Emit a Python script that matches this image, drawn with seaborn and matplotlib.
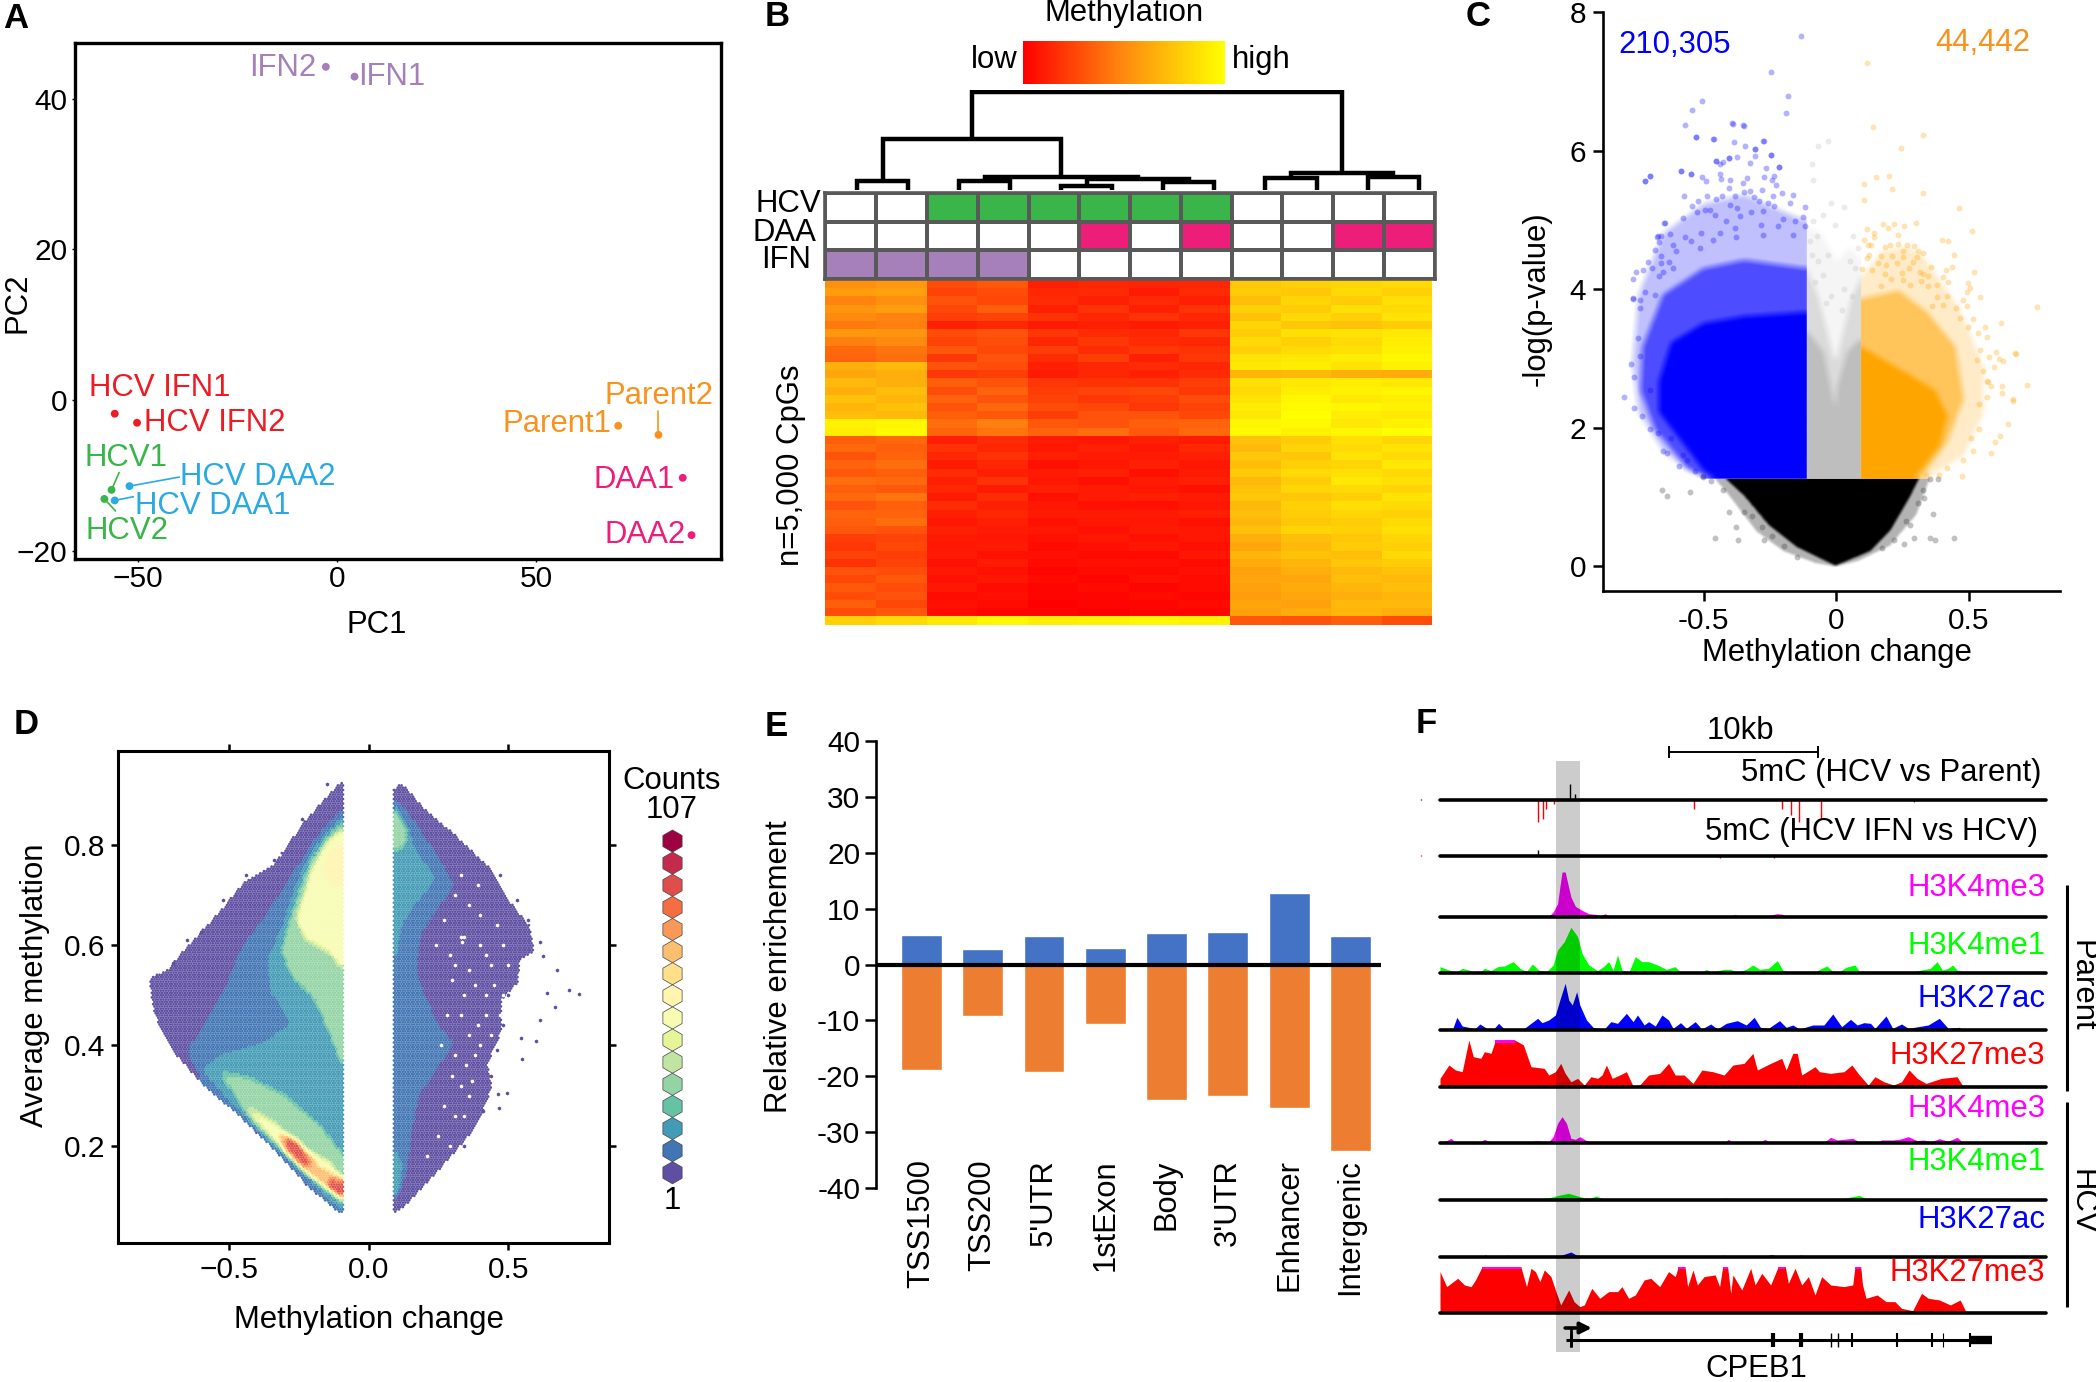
import numpy as np
import pandas as pd
import matplotlib
matplotlib.use("Agg")
import matplotlib.pyplot as plt
import seaborn as sns
from matplotlib.colors import LinearSegmentedColormap, ListedColormap, to_rgb
from matplotlib.path import Path
from matplotlib.colorbar import ColorbarBase

W, H = 2096, 1382

# panel A
PCA_NAMES = ["IFN2", "IFN1", "HCV IFN1", "HCV IFN2", "HCV1", "HCV2", "HCV DAA2", "HCV DAA1",
             "Parent1", "Parent2", "DAA1", "DAA2"]
PCA_GROUPS = ["IFN", "IFN", "HCV IFN", "HCV IFN", "HCV", "HCV", "HCV DAA", "HCV DAA",
              "Parent", "Parent", "DAA", "DAA"]
PC1 = [-2.8, 4.4, -55.8, -50.2, -56.6, -58.4, -52.1, -55.8, 70.6, 80.7, 86.8, 89.0]
PC2 = [44.2, 42.9, -1.8, -3.0, -11.9, -13.1, -11.4, -13.3, -3.4, -4.6, -10.3, -17.9]
LABEL_X = [-13.5, 13.7, -44.5, -30.7, -53, -52.7, -20, -31.3, 55.2, 80.8, 74.5, 77.4]
LABEL_Y = [44.1, 42.9, 1.6, -3.0, -7.7, -17.3, -10.2, -14, -3.2, 0.5, -10.6, -17.9]
GROUP_COLORS = {"IFN": "#A680B8", "HCV IFN": "#ED1C24", "HCV": "#39B54A", "HCV DAA": "#29ABE2",
                "Parent": "#F7931E", "DAA": "#ED1E79"}
# label end of the leader line, by sample
LEADERS = {"HCV1": (-54.7, -9.6), "HCV2": (-55.6, -14.7), "HCV DAA2": (-39.6, -10.2),
           "HCV DAA1": (-51.1, -12.8), "Parent2": (80.7, -1.4)}

# panel B
HCV_ROW = [0, 0, 1, 1, 1, 1, 1, 1, 0, 0, 0, 0]
DAA_ROW = [0, 0, 0, 0, 0, 2, 0, 2, 0, 0, 2, 2]
IFN_ROW = [3, 3, 3, 3, 0, 0, 0, 0, 0, 0, 0, 0]
MERGES = [(0, 1, 23), (2, 3, 23), (4, 5, 11), (6, 7, 19), (14, 15, 26), (13, 16, 33), (12, 17, 126),
          (8, 9, 29), (10, 11, 31), (19, 20, 41), (18, 21, 241)]
METHYLATION = [
    [52, 56, 28, 32, 12, 14, 13, 14, 76, 80, 82, 84],
    [58, 60, 24, 28, 14, 15, 10, 16, 78, 76, 84, 80],
    [48, 52, 30, 26, 16, 12, 15, 12, 72, 82, 78, 86],
    [55, 58, 26, 34, 12, 18, 12, 18, 80, 78, 86, 84],
    [50, 48, 22, 24, 18, 14, 18, 14, 74, 84, 80, 88],
    [44, 46, 12, 14, 10, 12, 10, 12, 82, 76, 74, 78],
    [56, 54, 28, 30, 20, 16, 14, 20, 78, 86, 88, 90],
    [46, 50, 24, 28, 14, 20, 16, 14, 84, 80, 84, 92],
    [38, 42, 32, 26, 22, 16, 20, 18, 80, 84, 86, 94],
    [36, 40, 20, 30, 16, 22, 12, 20, 88, 90, 92, 96],
    [66, 70, 30, 28, 12, 14, 16, 14, 90, 92, 88, 94],
    [62, 66, 20, 22, 10, 14, 12, 16, 68, 70, 66, 64],
    [70, 66, 34, 30, 20, 18, 18, 22, 86, 90, 92, 90],
    [66, 72, 28, 36, 22, 24, 26, 20, 84, 92, 94, 96],
    [74, 68, 36, 30, 24, 20, 22, 28, 88, 96, 90, 92],
    [68, 74, 30, 38, 28, 26, 20, 24, 92, 98, 96, 94],
    [72, 70, 34, 32, 22, 30, 30, 26, 90, 100, 92, 90],
    [94, 96, 40, 46, 32, 30, 34, 36, 96, 98, 90, 94],
    [92, 98, 36, 42, 36, 40, 32, 38, 98, 94, 96, 100],
    [34, 38, 12, 16, 10, 8, 12, 10, 74, 78, 86, 82],
    [38, 34, 18, 14, 8, 12, 8, 14, 70, 82, 84, 88],
    [30, 36, 14, 18, 12, 10, 10, 12, 76, 76, 88, 84],
    [36, 40, 10, 14, 6, 8, 12, 8, 72, 80, 82, 90],
    [32, 34, 16, 12, 10, 12, 6, 10, 78, 84, 86, 84],
    [40, 38, 12, 18, 8, 6, 10, 12, 70, 78, 90, 86],
    [34, 32, 14, 10, 12, 10, 8, 6, 74, 82, 84, 82],
    [38, 42, 10, 16, 6, 10, 12, 10, 76, 76, 80, 88],
    [30, 34, 16, 12, 8, 6, 6, 8, 70, 80, 86, 84],
    [36, 36, 12, 14, 10, 10, 10, 12, 72, 78, 82, 80],
    [34, 40, 8, 12, 6, 8, 8, 6, 68, 76, 78, 84],
    [32, 30, 12, 10, 8, 6, 10, 8, 74, 82, 80, 86],
    [22, 24, 10, 8, 6, 8, 6, 8, 66, 72, 76, 82],
    [20, 26, 8, 10, 4, 6, 8, 6, 62, 70, 78, 80],
    [24, 22, 10, 6, 6, 4, 4, 8, 68, 74, 72, 84],
    [18, 24, 6, 10, 4, 6, 6, 4, 64, 68, 76, 78],
    [30, 28, 8, 6, 2, 4, 4, 6, 60, 66, 70, 74],
    [26, 32, 6, 8, 4, 2, 6, 4, 62, 62, 72, 70],
    [32, 28, 8, 4, 2, 4, 2, 4, 60, 64, 68, 72],
    [28, 30, 4, 6, 2, 2, 4, 2, 58, 62, 66, 68],
    [34, 26, 6, 4, 0, 2, 2, 4, 62, 60, 70, 70],
    [28, 32, 4, 2, 2, 0, 2, 2, 60, 64, 68, 66],
    [80, 84, 90, 96, 92, 94, 96, 94, 32, 30, 34, 28],
]

# panel C: outlines of the point clouds and the points that stand apart
BLUE_SPARSE = [(-.112, 4.98), (-.196, 5.11), (-.349, 5.36), (-.502, 5.23), (-.655, 4.8), (-.747, 3.92), (-.77, 2.92),
               (-.747, 2.23), (-.655, 1.67), (-.564, 1.38), (-.472, 1.27), (-.112, 1.27)]
BLUE_MID = [(-.112, 4.3), (-.349, 4.42), (-.502, 4.3), (-.655, 3.92), (-.732, 3.17), (-.74, 2.54), (-.686, 1.98),
            (-.564, 1.42), (-.487, 1.27), (-.112, 1.27)]
BLUE_SOLID = [(-.112, 3.67), (-.349, 3.61), (-.502, 3.51), (-.625, 3.23), (-.671, 2.67), (-.671, 2.23), (-.609, 1.92),
              (-.502, 1.38), (-.456, 1.27), (-.112, 1.27)]
ORANGE_SPARSE = [(.092, 4.17), (.172, 4.55), (.263, 4.61), (.325, 4.48), (.462, 3.73), (.554, 2.86), (.554, 2.23),
                 (.478, 1.6), (.34, 1.27), (.092, 1.27)]
ORANGE_MID = [(.092, 3.86), (.233, 3.98), (.34, 3.67), (.447, 3.17), (.478, 2.42), (.417, 1.79), (.317, 1.27), (.092, 1.27)]
ORANGE_SOLID = [(.092, 3.17), (.263, 2.79), (.371, 2.54), (.417, 2.17), (.386, 1.73), (.294, 1.27), (.092, 1.27)]
GREY_SPARSE = [(-.112, 4.9), (-.06, 4.8), (0, 4.4), (.05, 4.6), (.092, 4.4), (.092, 1.27), (-.112, 1.27)]
GREY_MID = [(-.112, 4.3), (-.07, 3.9), (-.01, 3.0), (0, 3.0), (.05, 3.8), (.092, 4.2), (.092, 1.27), (-.112, 1.27)]
GREY_SOLID = [(-.112, 3.4), (-.05, 3.1), (-.012, 2.4), (-.004, 2.3), (.002, 2.6), (.04, 3.1), (.092, 3.3),
              (.092, 1.27), (-.112, 1.27)]
BLACK_SPARSE = [(-.46, 1.27), (-.4, 1.0), (-.3, .5), (-.2, .22), (-.08, .05), (-.005, 0), (.08, .08), (.2, .3),
                (.3, .75), (.35, 1.27)]
BLACK_SOLID = [(-.42, 1.27), (-.349, 1.02), (-.257, .6), (-.15, .28), (-.005, .01), (.126, .22), (.202, .52),
               (.275, 1.0), (.31, 1.27)]
BLUE_POINTS = [(-.135, 7.65), (-.247, 7.13), (-.181, 6.79), (-.188, 6.54), (-.508, 6.71), (-.545, 6.59), (-.39, 6.39),
               (-.349, 6.36), (-.531, 6.19), (-.462, 6.16), (-.274, 6.14), (-.306, 6.02), (-.704, 5.63), (-.721, 5.56),
               (-.587, 5.7), (-.548, 5.66), (-.453, 5.85), (-.403, 5.89), (-.245, 5.94), (-.216, 5.77), (-.648, 4.95),
               (-.671, 4.77), (-.802, 2.45), (-.773, 2.92), (-.766, 3.86),
               (-.572, 6.363), (-.392, 6.397), (-.351, 6.363), (-.530, 6.190), (-.464, 6.166), (-.385, 6.118), (-.343, 6.065),
               (-.275, 6.132), (-.307, 6.017), (-.307, 5.916), (-.246, 5.930), (-.376, 5.906), (-.405, 5.892), (-.455, 5.848),
               (-.426, 5.834), (-.439, 5.800), (-.327, 5.824), (-.217, 5.766), (-.264, 5.742), (-.587, 5.699), (-.549, 5.665),
               (-.440, 5.665), (-.507, 5.617), (-.434, 5.593), (-.493, 5.559), (-.400, 5.569), (-.338, 5.598), (-.271, 5.617),
               (-.236, 5.636), (-.244, 5.579), (-.351, 5.531), (-.723, 5.559), (-.702, 5.627), (-.226, 5.497), (-.405, 5.458),
               (-.280, 5.434), (-.324, 5.420), (-.348, 5.401), (-.574, 5.343), (-.486, 5.348), (-.454, 5.304), (-.432, 5.343),
               (-.383, 5.338), (-.309, 5.333), (-.237, 5.348), (-.205, 5.391), (-.164, 5.352), (-.173, 5.247), (-.119, 5.184),
               (-.520, 5.266), (-.543, 5.194), (-.497, 5.136), (-.478, 5.145), (-.402, 5.218), (-.374, 5.170), (-.290, 5.275),
               (-.257, 5.242), (-.236, 5.194), (-.649, 4.953), (-.578, 5.025), (-.525, 5.112), (-.459, 5.073), (-.415, 4.977),
               (-.364, 5.059), (-.320, 5.112), (-.276, 5.121), (-.201, 5.011), (-.125, 5.040), (-.676, 4.760), (-.660, 4.770),
               (-.626, 4.794), (-.572, 4.760), (-.509, 4.809), (-.440, 4.809), (-.383, 4.881), (-.283, 4.929), (-.220, 4.905),
               (-.157, 4.977), (-.119, 4.905), (-.669, 4.674), (-.616, 4.640), (-.547, 4.698), (-.465, 4.712), (-.377, 4.760),
               (-.276, 4.785), (-.163, 4.785), (-.710, 4.399), (-.685, 4.568), (-.660, 4.481), (-.603, 4.544), (-.515, 4.592),
               (-.767, 4.144), (-.754, 4.245), (-.729, 4.270), (-.694, 4.303), (-.660, 4.375), (-.631, 4.385), (-.767, 3.870),
               (-.739, 3.846), (-.723, 3.966), (-.685, 3.918), (-.742, 3.726), (-.669, 4.183), (-.654, 4.255), (-.616, 4.303),
               (-.763, 2.29), (-.732, 2.17), (-.701, 1.98), (-.655, 1.67), (-.64, 1.63), (-.594, 1.45), (-.579, 1.6), (-.533, 1.38),
               (-.763, 2.73), (-.747, 3.29), (-.74, 3.04), (-.701, 2.54), (-.671, 1.92), (-.625, 1.85), (-.564, 1.54), (-.502, 1.3)]
ORANGE_POINTS = [(.115, 7.26), (.138, 6.34), (.325, 6.22), (.245, 6.04), (.149, 5.62), (.103, 5.52), (.199, 5.64),
                 (.21, 5.45), (.325, 5.39), (.103, 5.28), (.462, 5.17), (.511, 4.84), (.677, 3.07), (.665, 2.39), (.646, 2.05),
                 (.616, 1.88), (.585, 1.63), (.597, 1.79), (.473, 1.31),
                 (.177, 4.943), (.216, 4.943), (.301, 4.953), (.257, 4.905), (.194, 4.886), (.116, 4.871), (.143, 4.809), (.231, 4.785),
                 (.143, 4.746), (.397, 4.712), (.422, 4.698), (.106, 4.712), (.120, 4.640), (.130, 4.631), (.232, 4.645), (.202, 4.635),
                 (.265, 4.631), (.183, 4.602), (.292, 4.616), (.443, 4.496), (.252, 4.544), (.309, 4.554), (.328, 4.520), (.170, 4.481),
                 (.124, 4.496), (.211, 4.472), (.114, 4.448), (.303, 4.462), (.252, 4.462), (.158, 4.376), (.227, 4.376), (.290, 4.390),
                 (.357, 4.327), (.189, 4.351), (.095, 4.289), (.133, 4.270), (.275, 4.299), (.412, 4.279), (.438, 4.327), (.521, 4.255),
                 (.248, 4.231), (.315, 4.255), (.328, 4.222), (.183, 4.222), (.347, 4.193), (.401, 4.173), (.420, 4.106), (.207, 4.145),
                 (.252, 4.135), (.497, 4.096), (.380, 4.063), (.504, 4.024), (.321, 4.111), (.491, 3.966), (.168, 4.048), (.277, 4.063),
                 (.347, 4.039), (.542, 3.885), (.378, 3.894), (.416, 3.904), (.479, 3.846), (.359, 3.760), (.491, 3.760), (.755, 3.740),
                 (.403, 3.774), (.451, 3.726), (.516, 3.567), (.466, 3.581), (.620, 3.519), (.498, 3.461), (.560, 3.461), (.535, 3.374),
                 (.569, 3.307), (.674, 3.086), (.604, 3.100), (.577, 3.018), (.627, 2.965), (.615, 2.989), (.596, 2.884), (.542, 3.115),
                 (.529, 2.980), (.552, 2.826), (.718, 2.619), (.626, 2.604), (.571, 2.667), (.623, 2.498), (.567, 2.450), (.667, 2.412),
                 (.508, 1.85), (.539, 1.98), (.478, 1.54), (.417, 1.42), (.386, 1.32), (.34, 1.32), (.57, 2.67), (.539, 2.35), (.585, 2.6),
                 (.516, 1.67)]
GREY_POINTS = [(-.031, 6.14), (-.069, 6.07), (-.092, 5.8), (-.089, 5.58), (-.02, 5.25), (.029, 5.18), (-.051, 5.07),
               (-.089, 4.98), (-.005, 4.92), (.064, 4.77), (-.074, 4.77), (-.09, 4.5), (-.07, 4.4), (-.05, 4.2), (-.02, 3.9),
               (.03, 4.0), (.07, 4.3), (.08, 4.6), (-.1, 4.7), (-.03, 4.5), (.05, 4.4), (-.08, 4.1), (.06, 3.9), (-.04, 3.8), (.02, 3.7)]
BLACK_POINTS = [(-.658, 1.1), (-.637, 1.02), (-.551, 1.07), (-.456, .41), (-.372, .38), (-.403, .79), (-.38, .57),
                (-.273, .38), (.444, .41), (.371, .38), (.352, .41), (.363, .76), (.383, 1.26), (.294, .41),
                (.256, .32), (.332, .98), (-.15, .13), (-.472, 1.23), (-.426, 1.1), (-.502, 1.29), (-.349, .79), (-.319, .73),
                (-.28, .57), (-.242, .44), (-.196, .29), (.279, .6), (.263, .66), (.325, 1.1), (.309, .91), (.217, .38),
                (.172, .26), (.355, 1.26)]

# panel D: density outlines, with the colour step of each
D_REGIONS = [
    (0, [(-.095, .924), (-.137, .9), (-.238, .836), (-.34, .756), (-.441, .724), (-.525, .668), (-.644, .596), (-.72, .548),
         (-.782, .532), (-.762, .46), (-.694, .388), (-.593, .324), (-.475, .268), (-.34, .196), (-.221, .124), (-.103, .068),
         (-.095, .068)]),
    (1, [(-.095, .868), (-.171, .824), (-.238, .768), (-.306, .708), (-.373, .652), (-.458, .588), (-.508, .516), (-.576, .452),
         (-.644, .388), (-.593, .328), (-.475, .272), (-.34, .2), (-.221, .128), (-.103, .072)]),
    (2, [(-.095, .852), (-.154, .82), (-.221, .768), (-.264, .708), (-.306, .636), (-.356, .572), (-.348, .508), (-.272, .444),
         (-.373, .404), (-.525, .38), (-.593, .352), (-.492, .288), (-.373, .224), (-.255, .16), (-.154, .1), (-.095, .072)]),
    (4, [(-.095, .84), (-.154, .808), (-.204, .764), (-.238, .716), (-.28, .644), (-.306, .588), (-.272, .54), (-.188, .492),
         (-.137, .428), (-.095, .364)]),
    (4, [(-.525, .344), (-.424, .332), (-.306, .3), (-.171, .236), (-.095, .18), (-.095, .088), (-.154, .116), (-.272, .172),
         (-.407, .244)]),
    (7, [(-.095, .828), (-.145, .804), (-.196, .756), (-.221, .708), (-.255, .652), (-.221, .612), (-.137, .588), (-.095, .556)]),
    (7, [(-.441, .276), (-.34, .244), (-.238, .196), (-.137, .164), (-.095, .132), (-.095, .092), (-.171, .132), (-.306, .196)]),
    (8, [(-.095, .8), (-.137, .784), (-.162, .748), (-.128, .724), (-.095, .716)]),
    (10, [(-.323, .228), (-.255, .208), (-.171, .156), (-.095, .136), (-.095, .096), (-.154, .12), (-.238, .156), (-.306, .196)]),
    (13, [(-.297, .22), (-.264, .208), (-.201, .16), (-.238, .164), (-.289, .196)]),
    (13, [(-.145, .132), (-.095, .128), (-.095, .1), (-.137, .116)]),
    (0, [(.093, .908), (.117, .92), (.201, .868), (.319, .812), (.437, .748), (.471, .716), (.514, .676), (.573, .636), (.59, .588),
         (.539, .572), (.53, .524), (.471, .492), (.471, .428), (.421, .364), (.437, .316), (.387, .244), (.311, .192), (.201, .124),
         (.117, .076), (.093, .068)]),
    (1, [(.093, .888), (.133, .868), (.201, .812), (.269, .756), (.302, .716), (.235, .668), (.184, .62), (.167, .548), (.201, .492),
         (.252, .436), (.302, .404), (.252, .364), (.176, .3), (.15, .228), (.133, .148), (.093, .088)]),
    (2, [(.093, .876), (.133, .84), (.167, .788), (.235, .732), (.167, .684), (.117, .644), (.1, .588), (.093, .556)]),
    (2, [(.093, .196), (.117, .164), (.108, .116), (.093, .1)]),
    (4, [(.093, .868), (.13, .828), (.133, .804), (.093, .788)]),
]
D_POINTS = [(.674, .55), (.716, .51), (.755, .502), (.64, .504), (.666, .476), (.615, .45), (.547, .414), (.598, .408),
            (.551, .372), (.497, .306), (.463, .304), (.466, .276), (.615, .606), (.623, .578), (-.7, .565), (-.65, .61),
            (-.6, .625), (-.52, .69), (-.44, .74), (-.34, .77), (-.24, .85), (-.15, .92), (.47, .74), (.53, .69), (.57, .65),
            (.5, .5), (.48, .44), (.46, .39), (.44, .34), (.41, .27), (.34, .2)]
D_GAPS = [(.33, .615), (.34, .615), (.335, .605), (.29, .58), (.31, .56), (.36, .55), (.40, .60), (.42, .58), (.44, .56), (.38, .52),
          (.34, .50), (.30, .53), (.42, .50), (.45, .52), (.48, .60), (.46, .64), (.40, .66), (.36, .68), (.33, .74), (.39, .72),
          (.50, .56), (.28, .46), (.33, .46), (.36, .42), (.39, .44), (.42, .46), (.31, .38), (.35, .36), (.38, .38), (.33, .32),
          (.36, .30), (.30, .34), (.27, .28), (.31, .26), (.25, .22), (.21, .18), (.24, .60), (.27, .65), (.31, .70), (.26, .40),
          (.40, .40), (.44, .42), (.43, .36), (.37, .33), (.34, .26), (.29, .20), (.47, .46), (.48, .50)]

# panel E
REGIONS = ["TSS1500", "TSS200", "5'UTR", "1stExon", "Body", "3'UTR", "Enhancer", "Intergenic"]
HYPER = [5.2, 2.7, 5.1, 3.0, 5.7, 5.8, 12.7, 5.1]
HYPO = [-18.8, -9.2, -19.2, -10.6, -24.2, -23.5, -25.6, -33.4]

# panel F: browser tracks as (position, signal)
K4ME3_PARENT = [(90, 0), (175, 0), (185, 4), (195, 0), (270, 0), (280, 3), (300, 3), (310, 0), (335, 2), (345, 15), (355, 40), (360, 90),
                (365, 135), (372, 135), (378, 100), (385, 60), (395, 32), (410, 20), (425, 10), (440, 8), (450, 2), (462, 10), (470, 3),
                (500, 0), (510, 3), (520, 0), (540, 4), (555, 4), (570, 0), (660, 0), (690, 5), (700, 0), (745, 2), (755, 8), (765, 2),
                (820, 2), (850, 10), (862, 8), (870, 0), (1455, 0)]
K4ME1_PARENT = [(90, 20), (110, 10), (125, 2), (140, 15), (155, 10), (165, 0), (180, 2), (190, 15), (205, 8), (220, 20), (235, 22), (255, 35),
                (270, 15), (285, 5), (298, 28), (312, 10), (330, 5), (345, 25), (355, 70), (370, 95), (385, 138), (400, 110), (410, 60),
                (425, 25), (445, 8), (460, 22), (470, 35), (480, 10), (490, 55), (500, 10), (515, 2), (530, 50), (545, 35), (560, 35),
                (580, 25), (600, 12), (620, 20), (632, 3), (680, 2), (690, 12), (700, 3), (730, 12), (745, 12), (760, 2), (780, 12),
                (795, 25), (810, 12), (830, 15), (850, 38), (862, 10), (875, 3), (900, 5), (930, 0), (950, 15), (962, 22), (975, 5),
                (990, 5), (1005, 18), (1025, 25), (1035, 5), (1075, 2), (1140, 2), (1175, 10), (1195, 15), (1210, 35), (1222, 10),
                (1235, 15), (1245, 25), (1255, 10), (1275, 2), (1280, 0), (1455, 0)]
K27AC_PARENT = [(90, 0), (118, 2), (128, 38), (140, 12), (155, 8), (168, 3), (180, 18), (195, 5), (210, 2), (222, 20), (235, 3), (280, 5),
                (300, 25), (310, 35), (320, 22), (335, 30), (350, 45), (360, 90), (372, 140), (380, 90), (388, 75), (398, 115), (405, 75),
                (420, 30), (435, 8), (460, 3), (475, 25), (490, 20), (510, 50), (525, 25), (535, 45), (550, 15), (560, 25), (575, 12),
                (590, 45), (605, 30), (615, 5), (632, 22), (645, 5), (665, 25), (680, 3), (700, 18), (715, 3), (735, 20), (760, 28),
                (780, 15), (798, 38), (812, 8), (830, 5), (855, 28), (870, 8), (885, 15), (900, 3), (930, 15), (955, 15), (975, 48),
                (995, 10), (1015, 32), (1030, 15), (1045, 22), (1060, 20), (1070, 5), (1095, 42), (1110, 5), (1130, 18), (1145, 5),
                (1190, 15), (1215, 35), (1235, 5), (1260, 8), (1270, 0), (1455, 0)]
K27ME3_PARENT = [(90, 25), (110, 65), (125, 50), (140, 45), (155, 140), (165, 90), (182, 85), (190, 105), (205, 100), (215, 140), (258, 140),
                 (265, 135), (278, 125), (295, 60), (325, 55), (335, 35), (350, 45), (362, 70), (372, 40), (385, 15), (400, 25), (415, 5),
                 (430, 30), (445, 25), (455, 35), (465, 65), (478, 25), (495, 35), (510, 45), (525, 2), (540, 5), (560, 35), (585, 40),
                 (605, 70), (620, 35), (640, 35), (660, 10), (680, 50), (705, 45), (730, 35), (750, 65), (775, 70), (795, 100), (805, 50),
                 (835, 70), (860, 85), (870, 50), (885, 100), (895, 100), (905, 35), (935, 60), (945, 45), (970, 40), (1000, 45),
                 (1018, 65), (1035, 35), (1055, 5), (1070, 30), (1090, 15), (1112, 5), (1130, 15), (1147, 50), (1165, 25), (1185, 10),
                 (1220, 25), (1255, 30), (1268, 2), (1275, 0), (1455, 0)]
K4ME3_HCV = [(90, 3), (105, 8), (115, 15), (125, 2), (180, 3), (190, 12), (205, 3), (260, 4), (268, 2), (295, 2), (305, 8), (320, 5), (335, 5),
             (345, 20), (355, 60), (365, 80), (375, 60), (385, 15), (395, 12), (405, 20), (420, 8), (430, 2), (490, 2), (510, 4), (530, 2),
             (550, 4), (570, 2), (585, 4), (600, 0), (730, 2), (740, 12), (750, 2), (810, 2), (822, 12), (835, 2), (915, 2), (922, 5),
             (930, 1), (955, 2), (970, 18), (985, 10), (1000, 12), (1020, 15), (1035, 4), (1050, 6), (1070, 2), (1085, 10), (1110, 10),
             (1125, 12), (1145, 20), (1165, 8), (1180, 10), (1195, 4), (1215, 14), (1235, 6), (1255, 18), (1268, 3), (1275, 0), (1455, 0)]
K4ME1_HCV = [(90, 0), (130, 2), (200, 4), (240, 2), (265, 2), (310, 2), (340, 8), (360, 15), (380, 20), (400, 12), (425, 4), (442, 12), (460, 2),
             (520, 2), (550, 3), (640, 2), (710, 3), (735, 6), (750, 1), (840, 3), (880, 2), (930, 3), (1000, 5), (1035, 14), (1050, 3),
             (1070, 4), (1085, 0), (1255, 2), (1265, 0), (1455, 0)]
K27AC_HCV = [(90, 0), (185, 0), (192, 6), (200, 0), (238, 0), (243, 5), (250, 2), (265, 4), (272, 0), (330, 0), (335, 2), (360, 3), (385, 14),
             (400, 3), (410, 0), (600, 0), (606, 3), (615, 0), (722, 0), (728, 5), (735, 0), (785, 0), (792, 4), (800, 0), (825, 1), (835, 6),
             (850, 3), (862, 1), (895, 3), (905, 5), (912, 0), (1200, 0), (1215, 3), (1230, 0), (1455, 0)]
K27ME3_HCV = [(90, 125), (105, 80), (120, 95), (130, 105), (145, 85), (160, 80), (170, 100), (185, 140), (272, 140), (285, 80), (295, 135),
              (305, 125), (315, 95), (325, 130), (340, 110), (350, 70), (362, 25), (380, 70), (392, 35), (405, 20), (415, 25), (432, 75),
              (450, 45), (470, 65), (490, 65), (500, 80), (515, 45), (530, 55), (550, 100), (565, 105), (585, 80), (605, 125), (620, 110),
              (627, 140), (642, 140), (648, 80), (660, 130), (670, 85), (685, 110), (710, 115), (720, 80), (727, 140), (738, 140), (745, 60),
              (750, 115), (770, 70), (790, 135), (800, 85), (815, 120), (835, 85), (852, 140), (868, 140), (875, 90), (890, 135), (905, 85),
              (920, 110), (935, 55), (950, 110), (970, 85), (1000, 80), (1020, 85), (1025, 140), (1038, 140), (1042, 85), (1050, 45),
              (1075, 55), (1095, 35), (1115, 35), (1130, 15), (1155, 8), (1175, 60), (1190, 45), (1215, 40), (1240, 25), (1262, 40),
              (1275, 5), (1280, 0), (1455, 0)]
MC_PARENT_UP = [(48, 4), (365, 4), (372, 4), (383, 50), (394, 20)]
MC_PARENT_DOWN = [(310, -65), (323, -55), (328, -25), (347, -12), (662, -25), (860, -25), (882, -45), (899, -65), (949, -55), (1158, -5)]
MC_IFN_UP = [(310, 18), (395, 4), (862, 5), (949, 3)]
MC_IFN_DOWN = [(48, 4), (720, -5), (842, -4)]
EXONS = [385, 840, 903, 972, 987, 1018, 1119, 1198, 1224, 1285]
EXON_WIDTHS = [2.0, 3.0, 3.0, 1.0, 1.0, 1.5, 1.5, 1.5, 0.8, 1.5]

sns.set_theme(style="ticks", rc={"axes.edgecolor": "black", "xtick.color": "black", "ytick.color": "black",
                                 "text.color": "black", "axes.labelcolor": "black"})
plt.rcParams["font.family"] = ["Liberation Sans", "DejaVu Sans"]

fig = plt.figure(figsize=(W / 100, H / 100), dpi=100)


def panel(left, top, right, bottom):
    return fig.add_axes([left / W, 1 - bottom / H, (right - left) / W, (bottom - top) / H])


def put(x, y, s, size=22.4, **kw):
    kw.setdefault("ha", "center")
    kw.setdefault("va", "center")
    fig.text(x / W, 1 - y / H, s, fontsize=size, **kw)


def dots(ax, points, color, s=18, alpha=0.3, marker="o"):
    xs, ys = zip(*points)
    sns.scatterplot(x=list(xs), y=list(ys), color=color, s=s, alpha=alpha, linewidth=0, marker=marker, ax=ax, zorder=3)


def soften(values, mask, wide, tall):
    """Box blur that stays inside mask, so its straight edges remain sharp."""
    def box(a):
        a = np.apply_along_axis(np.convolve, 1, a, np.ones(wide) / wide, mode="same")
        return np.apply_along_axis(np.convolve, 0, a, np.ones(tall) / tall, mode="same")
    return box(values * mask) / np.maximum(box(mask.astype(float)), 1e-6) * mask


for letter, x, y in [("A", 16, 19), ("B", 777, 17), ("C", 1478, 17), ("D", 26, 725), ("E", 776, 726), ("F", 1426, 724)]:
    put(x, y, letter, size=25, fontweight="bold")

# A
ax = panel(74.5, 42.7, 721, 558.5)
pca = pd.DataFrame({"PC1": PC1, "PC2": PC2, "group": PCA_GROUPS})
sns.scatterplot(data=pca, x="PC1", y="PC2", hue="group", palette=GROUP_COLORS, s=32, linewidth=0, legend=False, ax=ax)
for name, group, px, py, lx, ly in zip(PCA_NAMES, PCA_GROUPS, PC1, PC2, LABEL_X, LABEL_Y):
    ax.text(lx, ly, name, color=GROUP_COLORS[group], fontsize=22.4, ha="center", va="center")
    if name in LEADERS:
        ex, ey = LEADERS[name]
        ax.plot([px, ex], [py, ey], color=GROUP_COLORS[group], lw=1.2)
ax.set_xlim(-65.9, 96.4)
ax.set_ylim(-21, 47.4)
ax.set_xticks([-50, 0, 50])
ax.set_yticks([-20, 0, 20, 40])
ax.tick_params(labelsize=21.5, length=2, width=1, pad=3)
ax.set_xlabel("")
ax.set_ylabel("")
for sp in ax.spines.values():
    sp.set_linewidth(2.4)
put(377, 625, "PC1")
put(17, 303, "PC2", rotation=90)

# B
heat_cmap = LinearSegmentedColormap.from_list("ry", ["#FF0000", "#FF8A10", "#FFFF00"])
ax = panel(825.4, 280, 1432.4, 624.5)
sns.heatmap(np.array(METHYLATION) / 100, cmap=heat_cmap, vmin=0, vmax=1, cbar=False, xticklabels=False,
            yticklabels=False, ax=ax)

ax = panel(825.4, 192.7, 1434.7, 279.2)
sns.heatmap(np.array([HCV_ROW, DAA_ROW, IFN_ROW]), cmap=ListedColormap(["white", "#39B54A", "#ED1E79", "#A680B8"]),
            vmin=0, vmax=3, linewidths=2.6, linecolor="#595959", cbar=False, xticklabels=False, yticklabels=False, ax=ax)
for sp in ax.spines.values():
    sp.set_visible(True)
    sp.set_color("#595959")
    sp.set_linewidth(2.6)

cax = panel(1023.3, 40.8, 1224.8, 83.7)
ColorbarBase(cax, cmap=heat_cmap, orientation="horizontal", ticks=[]).outline.set_visible(False)

ax = panel(825.4, 90, 1432.4, 190)
nodes = [(float(i), 0.0) for i in range(12)]
for a, b, height in MERGES:
    xa, ha = nodes[a]
    xb, hb = nodes[b]
    ax.plot([xa, xa, xb, xb], [ha, height, height, hb], color="black", lw=3.2, solid_joinstyle="miter",
            solid_capstyle="butt")
    nodes.append(((xa + xb) / 2, height))
ax.set_xlim(-0.619, 11.27)
ax.set_ylim(0, 245)
ax.axis("off")

put(1124, 13, "Methylation")
put(994, 60, "low")
put(1261, 60, "high")
put(788, 204, "HCV")
put(784, 233, "DAA")
put(786, 260, "IFN")
put(791, 465, "n=5,000 CpGs", rotation=90)

# C
C_XLIM = (-0.88, 0.842)
C_YLIM = (-0.35, 8)
ax = panel(1603, 12, 2059.6, 590.6)
cx, cy = np.meshgrid(np.arange(C_XLIM[0], C_XLIM[1], 0.002), np.arange(C_YLIM[0], C_YLIM[1], 0.01))
c_grid = np.column_stack([cx.ravel(), cy.ravel()])


def cloud(layers, color, mask, wide=15, tall=11):
    alpha = np.zeros(cx.shape)
    for outline, strength in layers:
        alpha[Path(outline).contains_points(c_grid).reshape(cx.shape)] = strength
    rgba = np.zeros(cx.shape + (4,))
    rgba[..., :3] = to_rgb(color)
    rgba[..., 3] = np.clip(soften(alpha, mask, wide, tall), 0, 1)
    ax.imshow(rgba, origin="lower", aspect="auto", extent=[C_XLIM[0], C_XLIM[1], C_YLIM[0], C_YLIM[1]], zorder=1)


cloud([(BLACK_SPARSE, 0.3), (BLACK_SOLID, 1)], "black", cy <= 1.27, wide=7, tall=5)
cloud([(GREY_SPARSE, 0.15), (GREY_MID, 0.55), (GREY_SOLID, 1)], "#BEBEBE", (cy > 1.27) & (cx >= -0.112) & (cx <= 0.092))
cloud([(BLUE_SPARSE, 0.25), (BLUE_MID, 0.7), (BLUE_SOLID, 1)], "#0000FF", (cy > 1.27) & (cx < -0.112))
cloud([(ORANGE_SPARSE, 0.22), (ORANGE_MID, 0.65), (ORANGE_SOLID, 1)], "#FFA500", (cy > 1.27) & (cx > 0.092))
dots(ax, BLUE_POINTS, "#0000FF")
dots(ax, ORANGE_POINTS, "#FFA500")
dots(ax, GREY_POINTS, "#BEBEBE")
dots(ax, BLACK_POINTS, "#333333")
ax.set_xlim(*C_XLIM)
ax.set_ylim(*C_YLIM)
ax.set_xticks([-0.5, 0, 0.5], ["-0.5", "0", "0.5"])
ax.set_yticks([0, 2, 4, 6, 8])
ax.tick_params(labelsize=21.5, length=7, width=1.8, pad=5)
sns.despine(ax=ax)
for side in ["left", "bottom"]:
    ax.spines[side].set_linewidth(1.9)
put(1675, 45, "210,305", color="#0000FF")
put(1983, 43, "44,442", color="#F7931E")
put(1537, 299, "-log(p-value)", rotation=90)
put(1837, 653, "Methylation change")

# D
ax = panel(118, 751.4, 608.8, 1243)
grid_x, grid_y = np.meshgrid(np.arange(-0.8, 0.64, 0.0018), np.arange(0.06, 0.93, 0.0018))
grid = np.column_stack([grid_x.ravel(), grid_y.ravel()])
level = np.full(grid_x.shape, -1.0)
for step, outline in D_REGIONS:
    level[Path(outline).contains_points(grid).reshape(grid_x.shape)] = step
inside = level >= 0
smooth = soften(np.where(inside, level, 0), inside, 9, 9)
spectral = [tuple(c[:3]) for c in plt.get_cmap("Spectral_r")(np.linspace(0, 1, 16))]
ax.hexbin(grid_x[inside], grid_y[inside], C=smooth[inside], gridsize=(150, 95), reduce_C_function=np.max,
          cmap=ListedColormap(spectral), vmin=-0.5, vmax=15.5, linewidths=0)
dots(ax, D_POINTS, spectral[0], s=8, alpha=1, marker="h")
dots(ax, D_GAPS, "white", s=8, alpha=1, marker="h")
ax.set_xlim(-0.897, 0.86)
ax.set_ylim(0.0064, 0.9856)
ax.set_xticks([-0.5, 0, 0.5], ["\u22120.5", "0.0", "0.5"])
ax.set_yticks([0.2, 0.4, 0.6, 0.8])
ax.tick_params(labelsize=21.5, length=5, width=1.8, pad=4, top=True, right=True)
for sp in ax.spines.values():
    sp.set_linewidth(2.2)
put(35, 985, "Average methylation", rotation=90)
put(369, 1320, "Methylation change")
put(672, 781, "Counts")
put(672, 810, "107")
put(672, 1201, "1")

ax = panel(655, 828, 690, 1186)
hex_steps = list(range(16))
sns.scatterplot(x=[0.5] * 16, y=hex_steps, hue=hex_steps, palette=spectral[::-1], marker="h", s=255,
                edgecolor="#444444", linewidth=0.5, legend=False, clip_on=False, ax=ax)
ax.set_xlim(0, 1)
ax.set_ylim(15.6, -0.59)
ax.axis("off")

# E
ax = panel(875.5, 740.6, 1381, 1188.4)
sns.barplot(x=REGIONS, y=HYPER, color="#4472C4", saturation=1, width=0.667, ax=ax)
sns.barplot(x=REGIONS, y=HYPO, color="#ED7D31", saturation=1, width=0.667, ax=ax)
ax.axhline(0, color="black", lw=3)
ax.set_xlim(-0.749, 7.5)
ax.set_ylim(-40, 40)
ax.set_yticks(range(-40, 41, 10), [str(v) for v in range(-40, 41, 10)])
ax.tick_params(axis="y", labelsize=21.5, length=8, width=1.8, pad=3)
ax.tick_params(axis="x", labelsize=22.2, length=0, pad=-21, labelrotation=90)
sns.despine(ax=ax, bottom=True)
ax.spines["left"].set_linewidth(1.9)
put(779, 967, "Relative enrichement", rotation=90)

# F
TRACK_L, TRACK_R = 1440, 2045.8
TRACK_COLORS = {"H3K4me3": "#FF00FF", "H3K4me1": "#00FF00", "H3K27ac": "#0000FF", "H3K27me3": "#FF0000"}
TRACKS = [(917, "H3K4me3", K4ME3_PARENT, 888), (973.3, "H3K4me1", K4ME1_PARENT, 946), (1030, "H3K27ac", K27AC_PARENT, 999),
          (1086.7, "H3K27me3", K27ME3_PARENT, 1056), (1143.3, "H3K4me3", K4ME3_HCV, 1109), (1200, "H3K4me1", K4ME1_HCV, 1162),
          (1256.7, "H3K27ac", K27AC_HCV, 1220), (1313.3, "H3K27me3", K27ME3_HCV, 1273)]


def track_axes(base):
    tax = panel(TRACK_L, base - 56.7, TRACK_R, base)
    tax.set_xlim(90, 1455)
    tax.set_ylim(0, 170)
    tax.axis("off")
    tax.axhline(0, color="black", lw=2.6, clip_on=False, zorder=5)
    return tax


def spikes(tax, points, color):
    xs, ys = zip(*points)
    tax.vlines(xs, 0, ys, color=color, lw=1.0, clip_on=False)


for base, mark, signal, label_y in TRACKS:
    tax = track_axes(base)
    xs, ys = map(np.array, zip(*signal))
    tax.fill_between(xs, 0, ys, color=TRACK_COLORS[mark], lw=0)
    tax.fill_between(xs, 132, 140, where=ys >= 140, color="#FF00FF", lw=0)
    put(2045, label_y, mark, ha="right", color=TRACK_COLORS[mark])

tax = track_axes(800.3)
spikes(tax, MC_PARENT_UP, "black")
spikes(tax, MC_PARENT_DOWN, "#FF0000")
tax = track_axes(856.3)
spikes(tax, MC_IFN_UP, "black")
spikes(tax, MC_IFN_DOWN, "#FF0000")
put(2041, 773, "5mC (HCV vs Parent)", ha="right")
put(2038, 832, "5mC (HCV IFN vs HCV)", ha="right")

gene = panel(TRACK_L, 1320, TRACK_R, 1355)
gene.set_xlim(90, 1455)
gene.set_ylim(35, 0)
gene.axis("off")
gene.hlines(20, 375, 1320, color="black", lw=2.2)
gene.vlines(EXONS, 13, 27, color="black", lw=EXON_WIDTHS)
gene.hlines(20, EXONS[-1], 1333, color="black", lw=6)
gene.vlines(EXONS[0], 8, 27, color="black", lw=2.0)
gene.annotate("", xy=(432, 8), xytext=(372, 8),
              arrowprops=dict(arrowstyle="-|>", lw=2.6, color="black", mutation_scale=17, shrinkA=0, shrinkB=0))
put(1756, 1369, "CPEB1")

band = panel(TRACK_L, 760.7, TRACK_R, 1351.7)
band.set_xlim(90, 1455)
band.patch.set_alpha(0)
band.axis("off")
band.axvspan(351, 405, color="black", alpha=0.2, lw=0)

scale = panel(1660, 742, 1825, 762)
scale.set_xlim(1660, 1825)
scale.set_ylim(0, 1)
scale.axis("off")
scale.plot([1668.5, 1818], [0.5, 0.5], color="black", lw=1.4, marker="|", markersize=8, markeredgewidth=1.4)
put(1740, 731, "10kb")

side = panel(2055, 880, 2080, 1310)
side.set_xlim(0, 1)
side.set_ylim(1310, 880)
side.axis("off")
side.vlines(0.48, 885, 1090.7, color="black", lw=2.2)
side.vlines(0.48, 1101.7, 1306.7, color="black", lw=2.2)
put(2082, 986, "Parent", rotation=270)
put(2082, 1202, "HCV", rotation=270)

fig.savefig("out.png", dpi=100)
